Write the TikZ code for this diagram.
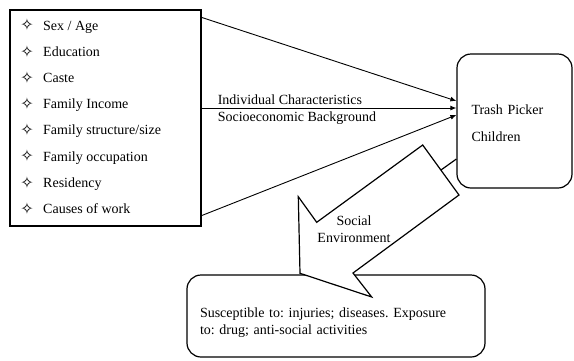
\documentclass[tikz,border=0pt]{standalone}
\usepackage{fontspec}
\setmainfont{Liberation Serif}
\newfontfamily\symfont{DejaVu Sans}
\usetikzlibrary{arrows.meta, positioning}
\tikzset{> = { Latex[length = 6pt, width = 5pt] }}
\frenchspacing

\begin{document}
\begin{tikzpicture}[x = 1pt, y = -1pt,
		every node/.style = {font = \rmfamily\fontsize{14}{17}\selectfont},
		box/.style = {draw, line width = 1.2pt, inner sep = 0pt},
		roundbox/.style = {box, rounded corners = 14pt},
		link/.style = {->, line width = 0.9pt},
		bullet/.style = {font = \symfont\bfseries\fontsize{16}{16}\selectfont, inner sep = 0pt},
		item/.style = {anchor = base west, inner sep = 0pt}]
		\useasboundingbox (0, 0) rectangle (574, 360);

		% factors on the left
		\node [box, minimum width = 191pt, minimum height = 216pt] (factors) at (105.5, 118) {};
		\foreach \txt [count = \i] in {Sex / Age, Education, Caste, Family Income, Family structure/size, Family occupation, Residency, Causes of work}
		{
			\node [bullet] (b\i) at (27, {25 + 26.2*(\i-1)}) {✧};
			\node [item] (f\i) at (43, {30 + 26.2*(\i-1)}) {\txt};
		}

		\node [roundbox, minimum width = 115pt, minimum height = 134pt, text width = 86pt, align = left] (trash) at (514.5, 121) {\rule{0pt}{14pt}Trash Picker\\[10pt]Children};
		\node [roundbox, minimum width = 298pt, minimum height = 82pt, text width = 272pt, align = left] (outcome) at (336, 316) {\rule{0pt}{24pt}Susceptible to: injuries; diseases. Exposure\\to: drug; anti-social activities};

		\draw [link] ([yshift = -8pt]factors.north east) -- ([yshift = 20pt]trash.west);
		\draw [link] ([yshift = 10pt]factors.east) coordinate (m1) -- ([yshift = 13pt]trash.west);
		\draw [link] ([yshift = 11pt]factors.south east) -- ([yshift = 6pt]trash.west);
		\node [item] (indiv) at ([xshift = 16pt, yshift = 4pt]m1) {Individual Characteristics};
		\node [item] (socio) at ([xshift = 16pt, yshift = -13pt]m1) {Socioeconomic Background};

		% block arrow down to the outcome box
		\coordinate (tailtop) at (422.7, 145);
		\coordinate (tailbot) at (459, 195);
		\coordinate (neckl) at (316.7, 222.3);
		\coordinate (barbl) at (298.3, 196.7);
		\coordinate (tip) at (300, 273.3);
		\coordinate (barbr) at (371.7, 297);
		\coordinate (neckr) at (353, 273);
		\coordinate (tail) at (441, 170);
		\draw [line width = 1.2pt] (tail) -- ([yshift = -38pt]trash.west);
		\draw [line width = 1.2pt, fill = white] (tailtop) -- (neckl) -- (barbl) -- (tip) -- (barbr) -- (neckr) -- (tailbot) -- cycle;
		\node [align = center] (social) at (354, 229) {Social\\Environment};
	\end{tikzpicture}
\end{document}
